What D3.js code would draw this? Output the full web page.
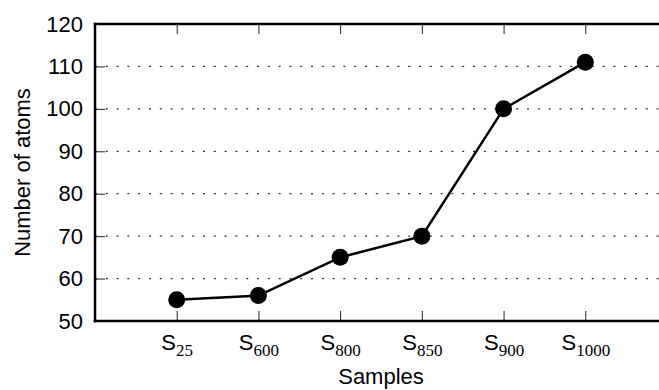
<!DOCTYPE html>
<html>
<head>
<meta charset="utf-8">
<script src="https://cdn.jsdelivr.net/npm/d3@7"></script>
<style>
  body { margin: 0; background: #fff; }
  svg { display: block; }
</style>
</head>
<body>
<div id="chart"></div>
<script>
// chart data
const sampleSubs = ["25", "600", "800", "850", "900", "1000"];
const atoms = [55, 56, 65, 70, 100, 111];
const yTicks = [50, 60, 70, 80, 90, 100, 110, 120];
const gridTicks = [60, 70, 80, 90, 100, 110];

const W = 659, H = 390;
const margin = { top: 24, left: 95, bottom: 69, right: -8 };

const svg = d3.select("#chart").append("svg")
  .attr("width", W)
  .attr("height", H);

const x = d3.scaleLinear()
  .domain([0, sampleSubs.length + 1])
  .range([margin.left, W - margin.right]);

const y = d3.scaleLinear()
  .domain([50, 120])
  .range([H - margin.bottom, margin.top]);

// dotted grid
svg.append("g")
  .selectAll("line")
  .data(gridTicks)
  .join("line")
  .attr("x1", x(0))
  .attr("x2", x(sampleSubs.length + 1))
  .attr("y1", d => y(d))
  .attr("y2", d => y(d))
  .attr("stroke", "#333")
  .attr("stroke-width", 1.2)
  .attr("stroke-dasharray", "2,8.8");

// y axis (ticks pointing inward)
const yAxis = svg.append("g")
  .attr("transform", `translate(${x(0)},0)`)
  .call(d3.axisLeft(y).tickValues(yTicks).tickSize(-10).tickPadding(12));
yAxis.select(".domain").remove();
yAxis.selectAll("line").attr("stroke", "#222").attr("stroke-width", 1);
yAxis.selectAll("text")
  .attr("font-family", "Liberation Sans, Arial, sans-serif")
  .attr("font-size", 22)
  .attr("fill", "#000");

// bottom x axis
const xIdx = sampleSubs.map((d, i) => i + 1);
const xAxis = svg.append("g")
  .attr("transform", `translate(0,${y(50)})`)
  .call(d3.axisBottom(x).tickValues(xIdx).tickSize(-10).tickPadding(13).tickFormat(() => ""));
xAxis.select(".domain").remove();
xAxis.selectAll("line").attr("stroke", "#222").attr("stroke-width", 1);
xAxis.selectAll("text").each(function (d, i) {
  const t = d3.select(this)
    .attr("font-size", 22)
    .attr("fill", "#000")
    .attr("text-anchor", "middle");
  t.append("tspan")
    .attr("font-family", "Liberation Sans, Arial, sans-serif")
    .text("S");
  t.append("tspan")
    .attr("font-family", "Liberation Serif, Times New Roman, serif")
    .attr("font-size", 17)
    .attr("dy", 6)
    .text(sampleSubs[i]);
});

// top ticks
const topAxis = svg.append("g")
  .attr("transform", `translate(0,${y(120)})`)
  .call(d3.axisTop(x).tickValues(xIdx).tickSize(-10).tickFormat(() => ""));
topAxis.select(".domain").remove();
topAxis.selectAll("line").attr("stroke", "#222").attr("stroke-width", 1);

// spines
const spines = [
  [x(0), y(120), x(0), y(50)],
  [x(0), y(50), x(sampleSubs.length + 1), y(50)],
  [x(0), y(120), x(sampleSubs.length + 1), y(120)]
];
svg.append("g")
  .selectAll("line")
  .data(spines)
  .join("line")
  .attr("x1", d => d[0]).attr("y1", d => d[1])
  .attr("x2", d => d[2]).attr("y2", d => d[3])
  .attr("stroke", "#000")
  .attr("stroke-width", 2.5)
  .attr("stroke-linecap", "square");

// line + markers
const line = d3.line()
  .x((d, i) => x(i + 1))
  .y(d => y(d));

svg.append("path")
  .datum(atoms)
  .attr("d", line)
  .attr("fill", "none")
  .attr("stroke", "#000")
  .attr("stroke-width", 2.5);

svg.append("g")
  .selectAll("circle")
  .data(atoms)
  .join("circle")
  .attr("cx", (d, i) => x(i + 1))
  .attr("cy", d => y(d))
  .attr("r", 8.5)
  .attr("fill", "#000");

// axis labels
svg.append("text")
  .attr("x", (x(0) + x(sampleSubs.length + 1)) / 2)
  .attr("y", 384)
  .attr("text-anchor", "middle")
  .attr("font-family", "Liberation Sans, Arial, sans-serif")
  .attr("font-size", 22)
  .text("Samples");

svg.append("text")
  .attr("transform", `translate(30,${(y(50) + y(120)) / 2}) rotate(-90)`)
  .attr("text-anchor", "middle")
  .attr("font-family", "Liberation Sans, Arial, sans-serif")
  .attr("font-size", 22)
  .text("Number of atoms");
</script>
</body>
</html>
